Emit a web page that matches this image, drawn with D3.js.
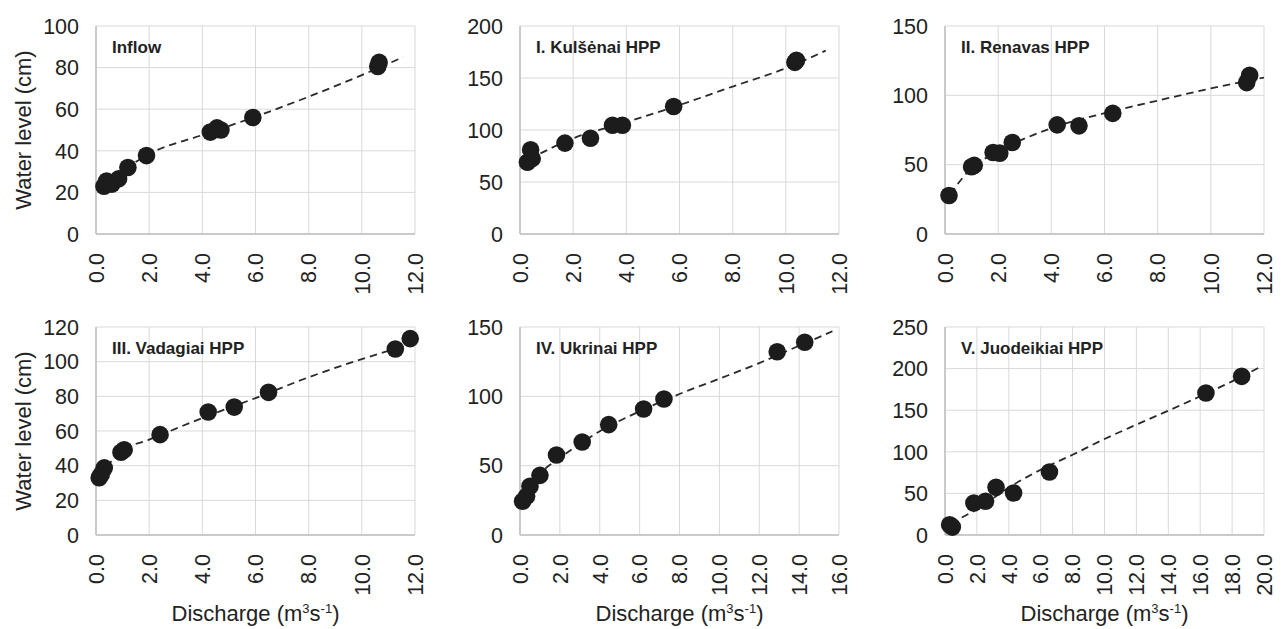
<!DOCTYPE html>
<html>
  <head>
    <meta charset="utf-8">
    <script src="https://cdn.jsdelivr.net/npm/d3@7"></script>
    <style>
      body { margin: 0; background: #fff; }
      text { font-family: "Liberation Sans", Arial, sans-serif; fill: #222; }
    </style>
  </head>
  <body>
    <svg width="1282" height="629"></svg>
    <script>
      // panel settings
      var titles = ['Inflow', 'I. Kulšėnai HPP', 'II. Renavas HPP',
                    'III. Vadagiai HPP', 'IV. Ukrinai HPP', 'V. Juodeikiai HPP']
      var xMax = [12, 12, 12, 12, 16, 20]
      var yMax = [100, 200, 150, 120, 150, 250]
      var yStep = [20, 50, 50, 20, 50, 50]

      // measured points [discharge, water level]
      var inflowPts = [[0.3,23],[0.4,25.5],[0.6,24],[0.85,26.5],[1.2,32],[1.9,37.7],
                       [4.3,49],[4.55,51],[4.7,50],[5.9,56],[10.6,80.5],[10.65,82.5]]
      var kulsenaiPts = [[0.28,69],[0.4,81],[0.46,72.5],[1.69,87.4],[2.65,92],[3.48,104.6],
                         [3.85,104.6],[5.78,122.6],[10.34,165],[10.4,167]]
      var renavasPts = [[0.15,27.8],[1.0,48.5],[1.1,49.5],[1.81,58.8],[2.06,58.3],[2.53,66],
                        [4.22,78.7],[5.04,78],[6.31,87],[11.35,109.2],[11.46,114.5]]
      var vadagiaiPts = [[0.12,33],[0.2,35],[0.31,38.7],[0.94,47.7],[1.06,49.2],[2.41,57.9],
                         [4.22,71],[5.2,73.8],[6.49,82.3],[11.26,107.3],[11.82,113.3]]
      var ukrinaiPts = [[0.13,24.3],[0.33,27.9],[0.5,35.1],[1.0,43],[1.83,57.7],[3.12,67.1],
                        [4.45,79.6],[6.2,90.9],[7.22,98.1],[12.9,132.2],[14.28,139]]
      var juodeikiaiPts = [[0.29,12.4],[0.46,9.5],[1.81,38.5],[2.54,40.5],[3.2,57.3],[4.3,50.5],
                           [6.55,75.7],[16.36,170.7],[18.6,190.7]]

      // trend lines
      var inflowTrend = [[0.35,24],[2,38.5],[4,47.6],[6,56.4],[8,66],[10,76.4],[11.55,85]]
      var kulsenaiTrend = [[0.35,72],[2,92],[4,107.5],[6,124],[8,141.8],[10,159.4],[11.5,176.3]]
      var renavasTrend = [[0.19,28.8],[1,47.5],[2,59.5],[4,76.3],[6,87.1],[8,96.2],[10,105],[12,112.8]]
      var vadagiaiTrend = [[0.1,33.8],[1,48.7],[2,55],[4,67.5],[6,79],[8,91],[10,101.5],[11.55,108.8]]
      var ukrinaiTrend = [[0.17,26],[1,44],[2,55.5],[4,74.8],[6,89.2],[8,101.7],[10,112.7],[12,124],[14,136.5],[15.67,146.9]]
      var juodeikiaiTrend = [[0.35,14.4],[2,31],[4,57],[6,78.5],[8,96.5],[10,115.4],[12,132.6],[14,149.4],[16,166.7],[18,184.7],[19.83,202.7]]

      var allPts = [inflowPts, kulsenaiPts, renavasPts, vadagiaiPts, ukrinaiPts, juodeikiaiPts]
      var allTrend = [inflowTrend, kulsenaiTrend, renavasTrend, vadagiaiTrend, ukrinaiTrend, juodeikiaiTrend]

      var lefts = [96, 520, 945]
      var tops = [26, 327]
      var W = 319, H = 208

      var svg = d3.select('svg')

      titles.forEach(function(t, i){
        var col = i % 3, row = Math.floor(i / 3)
        var g = svg.append('g')
          .attr('transform', 'translate(' + lefts[col] + ',' + tops[row] + ')')

        var x = d3.scaleLinear().domain([0, xMax[i]]).range([0, W])
        var y = d3.scaleLinear().domain([0, yMax[i]]).range([H, 0])
        var xt = d3.range(0, xMax[i] + 0.001, 2)
        var yt = d3.range(0, yMax[i] + 0.001, yStep[i])

        // grid
        g.selectAll('.gx').data(xt).enter().append('line')
          .attr('x1', function(d){ return x(d) }).attr('x2', function(d){ return x(d) })
          .attr('y1', 0).attr('y2', H)
          .attr('stroke', '#d9d9d9').attr('stroke-width', 1)
        g.selectAll('.gy').data(yt).enter().append('line')
          .attr('x1', 0).attr('x2', W)
          .attr('y1', function(d){ return y(d) }).attr('y2', function(d){ return y(d) })
          .attr('stroke', '#d9d9d9').attr('stroke-width', 1)
        // axis lines
        g.append('line').attr('x1', 0).attr('x2', 0).attr('y1', 0).attr('y2', H)
          .attr('stroke', '#bfbfbf').attr('stroke-width', 1.5)
        g.append('line').attr('x1', 0).attr('x2', W).attr('y1', H).attr('y2', H)
          .attr('stroke', '#bfbfbf').attr('stroke-width', 1.5)

        // tick labels
        g.selectAll('.ty').data(yt).enter().append('text')
          .attr('x', -17).attr('y', function(d){ return y(d) })
          .attr('dy', '0.36em').attr('text-anchor', 'end')
          .style('font-size', '21.5px')
          .text(function(d){ return d })
        g.selectAll('.tx').data(xt).enter().append('text')
          .attr('transform', function(d){ return 'translate(' + x(d) + ',' + (H + 19) + ') rotate(-90)' })
          .attr('dy', '0.36em').attr('text-anchor', 'end')
          .style('font-size', '21.5px')
          .text(function(d){ return d.toFixed(1) })

        // trend line
        var line = d3.line()
          .x(function(d){ return x(d[0]) })
          .y(function(d){ return y(d[1]) })
          .curve(d3.curveMonotoneX)
        g.append('path').datum(allTrend[i])
          .attr('d', line)
          .attr('fill', 'none').attr('stroke', '#2a2a2a')
          .attr('stroke-width', 1.8).attr('stroke-dasharray', '7.5,5')

        // points
        g.selectAll('circle').data(allPts[i]).enter().append('circle')
          .attr('cx', function(d){ return x(d[0]) })
          .attr('cy', function(d){ return y(d[1]) })
          .attr('r', 8.8)
          .attr('fill', '#1c1c1c')

        // panel title
        g.append('text').attr('x', 16).attr('y', 27)
          .style('font-size', '17px').style('font-weight', 'bold')
          .text(t)

        if (col == 0) {
          g.append('text')
            .attr('transform', 'translate(' + (-65) + ',' + (H / 2) + ') rotate(-90)')
            .attr('text-anchor', 'middle')
            .style('font-size', '22px')
            .text('Water level (cm)')
        }
        if (row == 1) {
          var xl = g.append('text')
            .attr('x', W / 2).attr('y', H + 86)
            .attr('text-anchor', 'middle')
            .style('font-size', '22px')
          xl.append('tspan').text('Discharge (m')
          xl.append('tspan').attr('dy', -8).style('font-size', '13px').text('3')
          xl.append('tspan').attr('dy', 8).text('s')
          xl.append('tspan').attr('dy', -8).style('font-size', '13px').text('-1')
          xl.append('tspan').attr('dy', 8).text(')')
        }
      })
    </script>
  </body>
</html>
